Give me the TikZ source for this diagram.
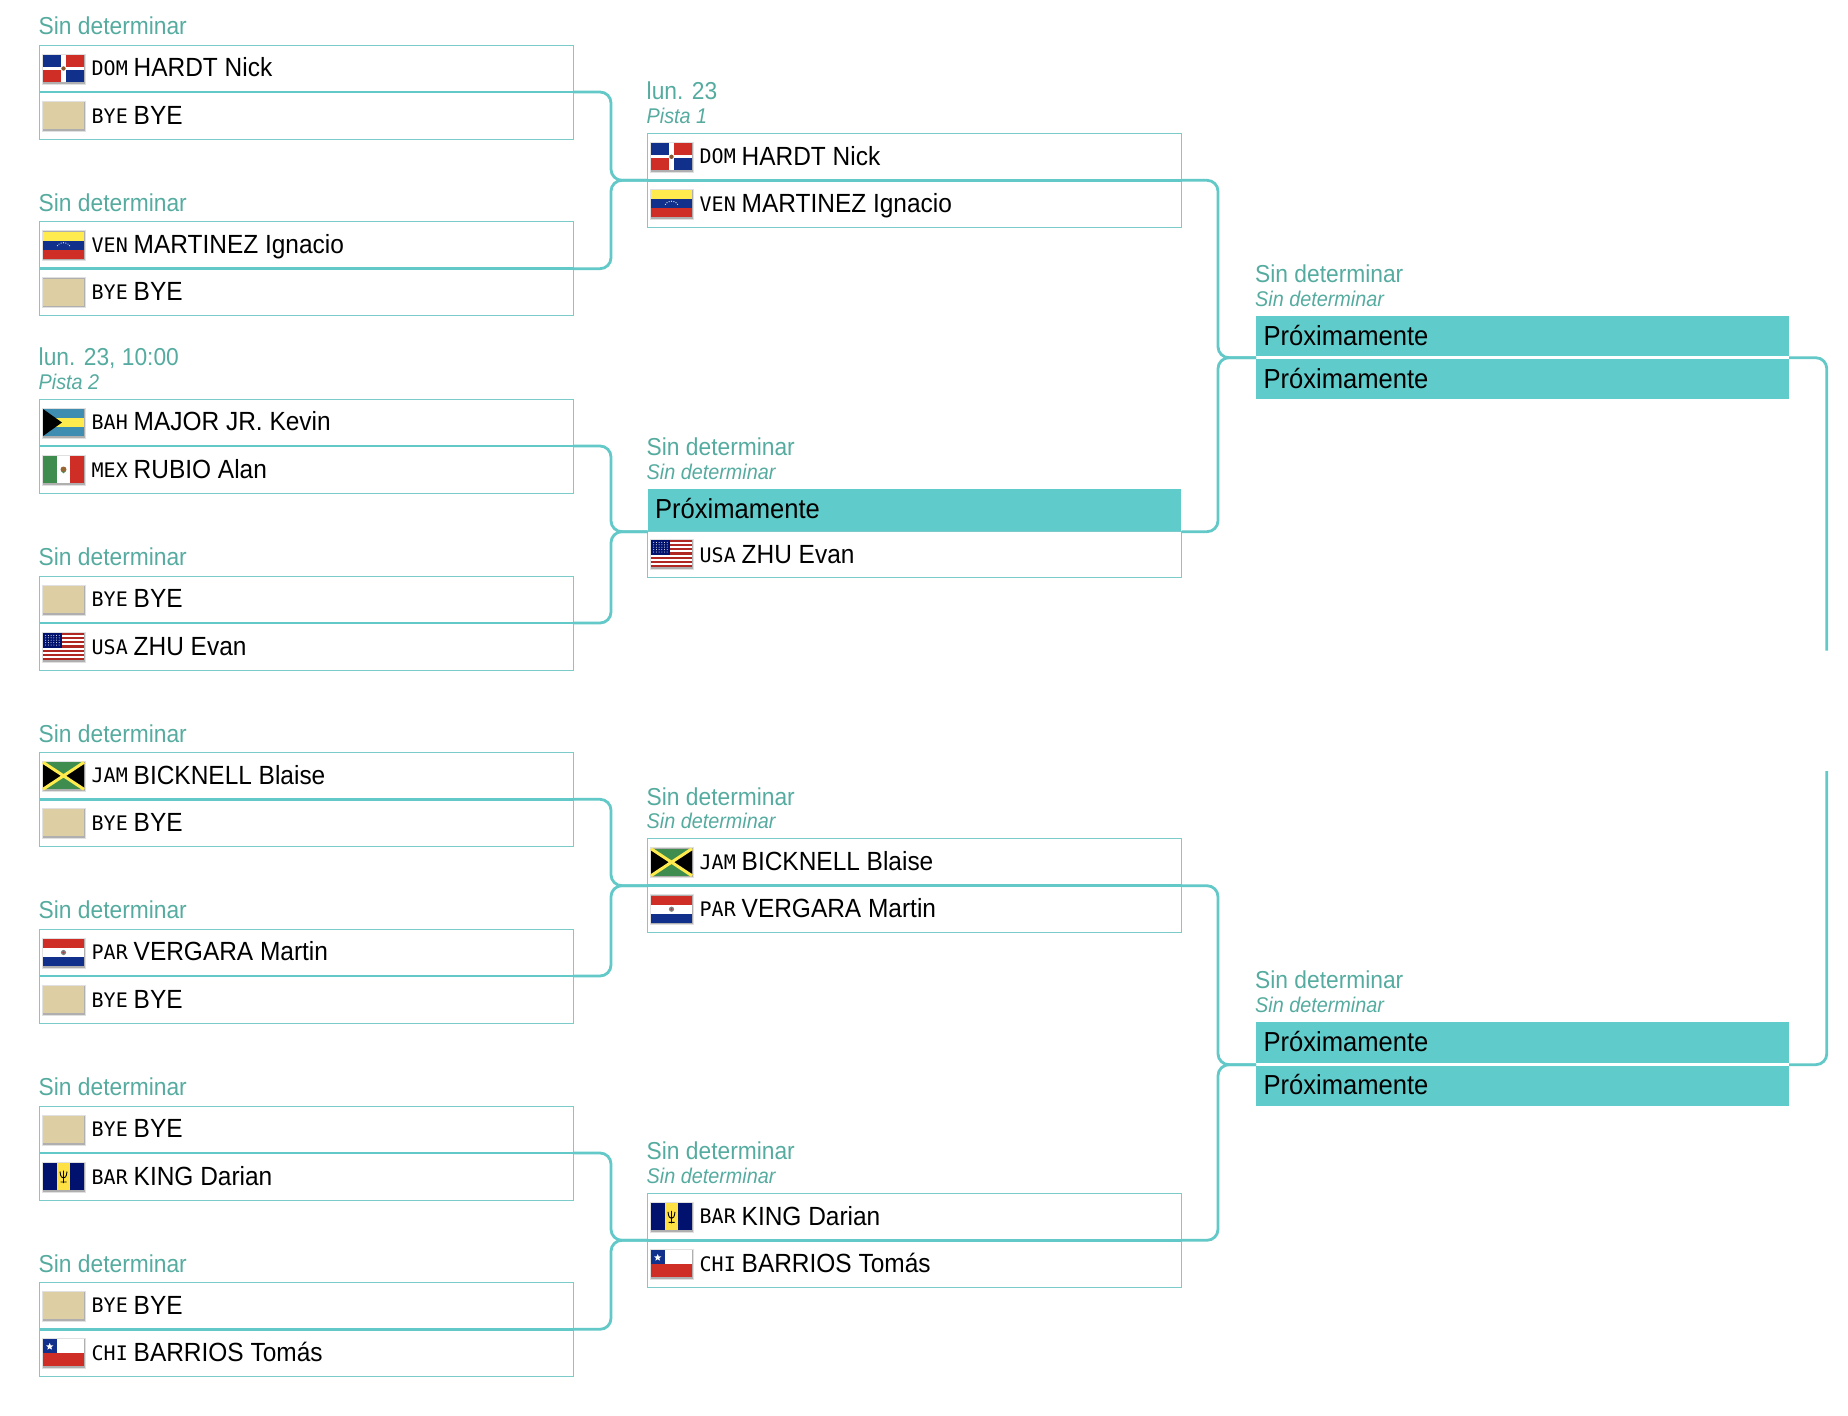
\documentclass[tikz,border=0pt]{standalone}
\usepackage{fontspec}
\setmainfont[FakeStretch=0.93]{Liberation Sans}
\newfontfamily\codefont{DejaVu Sans Mono}
\usetikzlibrary{positioning}

\definecolor{linecol}{HTML}{62C8C8}
\definecolor{boxcol}{HTML}{7CCBCB}
\definecolor{soonfill}{HTML}{5FCCCB}
\definecolor{datecol}{HTML}{55AB9F}
\definecolor{flagred}{HTML}{CE2E26}
\definecolor{flagblue}{HTML}{10308C}
\definecolor{flagnavy}{HTML}{00126E}
\definecolor{flaggreen}{HTML}{3E8C4E}
\definecolor{flagyellow}{HTML}{FFEB4D}
\definecolor{flagaqua}{HTML}{3F8DB0}
\definecolor{byecol}{HTML}{DDCFA3}

% flags, 41 by 27, from the top left corner
\def\flagDOM{
    \fill[flagblue] (0,0) rectangle (18,12);
    \fill[flagred] (23,0) rectangle (41,12);
    \fill[flagred] (0,15) rectangle (18,27);
    \fill[flagblue] (23,15) rectangle (41,27);
    \fill[white] (18,0) rectangle (23,27);
    \fill[white] (0,12) rectangle (41,15);
    \fill[brown!70!black] (20.5,13.5) circle (2.2);
}
\def\flagBYE{
    \fill[byecol] (0,0) rectangle (41,27);
}
\def\flagVEN{
    \fill[flagyellow] (0,0) rectangle (41,9);
    \fill[flagblue] (0,9) rectangle (41,18);
    \fill[flagred] (0,18) rectangle (41,27);
    \foreach \a in {30,50,...,150}{
        \fill[white] ({20.5+7*cos(\a)},{17-6*sin(\a)}) circle (0.6);
    }
}
\def\flagBAH{
    \fill[flagaqua] (0,0) rectangle (41,27);
    \fill[flagyellow] (0,9) rectangle (41,18);
    \fill[black] (0,0) -- (19,13.5) -- (0,27) -- cycle;
}
\def\flagMEX{
    \fill[flaggreen] (0,0) rectangle (14,27);
    \fill[white] (14,0) rectangle (27,27);
    \fill[flagred] (27,0) rectangle (41,27);
    \fill[brown!80!black] (20.5,13.5) circle (3);
    \fill[flaggreen] (20.5,16) circle (1.4);
}
\def\flagUSA{
    \fill[white] (0,0) rectangle (41,27);
    \foreach \i in {0,2,...,12}{
        \fill[flagred!85!black] (0,\i*27/13) rectangle (41,\i*27/13+27/13);
    }
    \fill[flagnavy] (0,0) rectangle (19,14.5);
    \foreach \i in {1,...,6}{
        \foreach \j in {1,...,5}{
            \fill[white] (\i*2.7,\j*2.4) circle (0.5);
        }
    }
}
\def\flagJAM{
    \fill[flaggreen] (0,0) rectangle (41,27);
    \fill[black] (0,0) -- (20.5,13.5) -- (0,27) -- cycle;
    \fill[black] (41,0) -- (20.5,13.5) -- (41,27) -- cycle;
    \draw[flagyellow, line width=3pt] (0,0) -- (41,27) (0,27) -- (41,0);
}
\def\flagPAR{
    \fill[flagred] (0,0) rectangle (41,9);
    \fill[white] (0,9) rectangle (41,18);
    \fill[flagblue] (0,18) rectangle (41,27);
    \fill[black!50] (20.5,13.5) circle (2.6);
    \fill[flagred] (20.5,13.5) circle (1.2);
}
\def\flagBAR{
    \fill[flagnavy] (0,0) rectangle (41,27);
    \fill[flagyellow!90!orange] (14,0) rectangle (27,27);
    \draw[black, line width=0.9pt] (20.5,7.5) -- (20.5,20) (17.5,19) -- (23.5,19)
        (17,8.5) .. controls (17.5,14) and (19,15) .. (20.5,15)
        .. controls (22,15) and (23.5,14) .. (24,8.5);
}
\def\flagCHI{
    \fill[white] (0,0) rectangle (41,13.5);
    \fill[flagred] (0,13.5) rectangle (41,27);
    \fill[flagblue] (0,0) rectangle (13.5,13.5);
    \fill[white] (6.7,3.6) -- (7.7,6) -- (10.3,6.2) -- (8.3,7.8) -- (9,10.3)
        -- (6.7,9) -- (4.4,10.3) -- (5.1,7.8) -- (3.1,6.2) -- (5.7,6) -- cycle;
}

\tikzset{
    matchbox/.style={draw=boxcol, line width=1pt, minimum width=534pt, minimum height=94pt,
        inner sep=0pt, outer sep=0pt, anchor=west},
    soonbox/.style={fill=soonfill, minimum width=533pt, text width=518pt, align=left, anchor=north west,
        inner xsep=7.5pt, inner ysep=0pt, outer sep=0pt, text height=20pt, text depth=2pt,
        font=\fontsize{27.5}{27.5}\selectfont},
    conn/.style={draw=linecol, line width=2.8pt, rounded corners=11pt},
    codetext/.style={anchor=base west, inner sep=0pt, font=\codefont\fontsize{20}{20}\selectfont},
    playertext/.style={anchor=base west, inner sep=0pt, font=\fontsize{26.3}{26.3}\selectfont},
    datetext/.style={anchor=base west, inner sep=0pt, text=datecol, font=\fontsize{24.5}{24.5}\selectfont},
    courttext/.style={anchor=base west, inner sep=0pt, text=datecol, font=\itshape\fontsize{21.3}{21.3}\selectfont},
    pics/flag/.style={code={
        \fill[black, opacity=0.12] (-1.5,-1.5) rectangle (42.5,29.5);
        \fill[black, opacity=0.22] (-0.5,-0.5) rectangle (41.5,28.5);
        \csname flag#1\endcsname
    }}
}

\begin{document}
\begin{tikzpicture}[x=1pt, y=-1pt]

    \useasboundingbox (0,0) rectangle (1848,1416);

    %matches with two players
    \foreach \id/\x/\y/\ca/\na/\cb/\nb in {
        m1/39.5/92/DOM/HARDT Nick/BYE/BYE,
        m2/39.5/268.7/VEN/MARTINEZ Ignacio/BYE/BYE,
        m3/39.5/446/BAH/MAJOR JR. Kevin/MEX/RUBIO Alan,
        m4/39.5/623/BYE/BYE/USA/ZHU Evan,
        m5/39.5/799.3/JAM/BICKNELL Blaise/BYE/BYE,
        m6/39.5/976/PAR/VERGARA Martin/BYE/BYE,
        m7/39.5/1153/BYE/BYE/BAR/KING Darian,
        m8/39.5/1329.3/BYE/BYE/CHI/BARRIOS Tomás,
        r1/647.5/180.3/DOM/HARDT Nick/VEN/MARTINEZ Ignacio,
        r3/647.5/885.7/JAM/BICKNELL Blaise/PAR/VERGARA Martin,
        r4/647.5/1240.3/BAR/KING Darian/CHI/BARRIOS Tomás}{
        \node[matchbox] (\id) at (\x,\y) {};
        \draw[conn] (\id.west) -- (\id.east);
        \pic at (\x+3.5,\y-37) {flag=\ca};
        \pic at (\x+3.5,\y+10) {flag=\cb};
        \node[codetext] (\id-c1) at (\x+52,\y-16.7) {\ca};
        \node[codetext] (\id-c2) at (\x+52,\y+31) {\cb};
        \node[playertext] (\id-p1) at (\x+94,\y-15.3) {\na};
        \node[playertext] (\id-p2) at (\x+94,\y+32) {\nb};
    }

    %rows still to come
    \foreach \id/\x/\y/\h in {r2a/647.5/489/41.5, f1a/1256/316/40, f1b/1256/359.3/39.4,
        f2a/1256/1022/40.7, f2b/1256/1066/39.7}{
        \node[soonbox, minimum height=\h pt] (\id) at (\x,\y) {Próximamente};
    }

    \node[matchbox, anchor=north west, minimum height=45.6pt] (r2b) at (647.5,531.7) {};
    \pic at (651,540) {flag=USA};
    \node[codetext] (r2b-c) at (699.5,562) {USA};
    \node[playertext] (r2b-p) at (741.5,563) {ZHU Evan};

    \node[matchbox, draw=none, minimum width=533pt] (f1) at (1256,357.7) {};
    \node[matchbox, draw=none, minimum width=533pt] (f2) at (1256,1064.7) {};

    %dates
    \foreach \id/\dy/\txt in {m1/10.3/Sin determinar, m2/10.3/Sin determinar,
        m3/33.7/{lun. 23, 10:00}, m4/10.3/Sin determinar, m5/10.3/Sin determinar,
        m6/10.3/Sin determinar, m7/10.3/Sin determinar, m8/10.3/Sin determinar,
        r1/33.7/lun. 23, r2a/34/Sin determinar, r3/33.7/Sin determinar,
        r4/33.7/Sin determinar, f1a/34/Sin determinar, f2a/34/Sin determinar}{
        \node[datetext] (\id-date) at ([xshift=-1pt, yshift=\dy pt]\id.north west) {\txt};
    }

    %courts
    \foreach \id/\txt in {m3/Pista 2, r1/Pista 1, r2a/Sin determinar, r3/Sin determinar,
        r4/Sin determinar, f1a/Sin determinar, f2a/Sin determinar}{
        \node[courttext] (\id-court) at ([xshift=-1pt, yshift=10pt]\id.north west) {\txt};
    }

    %connectors
    \foreach \n/\x/\y in {j1/611/180.3, j2/611/531.7, j3/611/885.7, j4/611/1240.3,
        j5/1218/357.7, j6/1218/1064.7, t1/1826.8/650.7, t2/1826.8/771}{
        \coordinate (\n) at (\x,\y);
    }

    \foreach \a/\j/\b in {m1.east/j1/r1.west, m2.east/j1/r1.west, m3.east/j2/r2b.north west,
        m4.east/j2/r2b.north west, m5.east/j3/r3.west, m6.east/j3/r3.west, m7.east/j4/r4.west,
        m8.east/j4/r4.west, r1.east/j5/f1.west, r2b.north east/j5/f1.west,
        r3.east/j6/f2.west, r4.east/j6/f2.west}{
        \draw[conn] (\a) -| (\j) -- (\b);
    }

    \draw[conn] (f1.east) -| (t1);
    \draw[conn] (f2.east) -| (t2);

\end{tikzpicture}
\end{document}
